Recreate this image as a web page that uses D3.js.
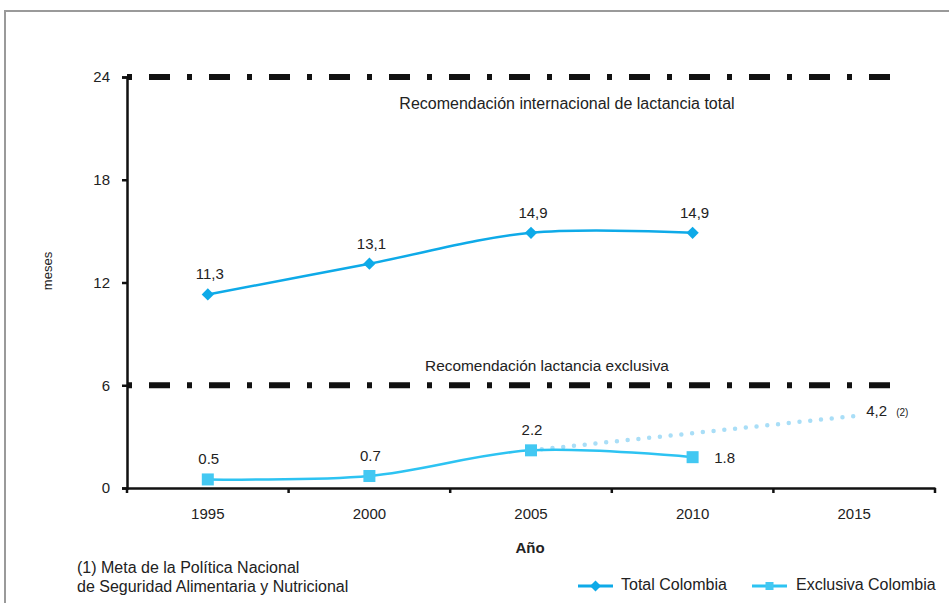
<!DOCTYPE html>
<html><head><meta charset="utf-8">
<script src="https://cdn.jsdelivr.net/npm/d3@7"></script>
<style>body{margin:0;background:#fff}svg{display:block;font-family:"Liberation Sans",Arial,sans-serif}</style>
</head><body><svg id="c" width="949" height="603"></svg>
<script>
const years = ["1995","2000","2005","2010","2015"];
const totalYears = ["1995","2000","2005","2010"];
const totalValues = [11.3, 13.1, 14.9, 14.9];
const totalLabels = ["11,3","13,1","14,9","14,9"];
const exclYears = ["1995","2000","2005","2010"];
const exclValues = [0.5, 0.7, 2.2, 1.8];
const exclLabels = ["0.5","0.7","2.2","1.8"];
const goalYears = ["2005","2015"];
const goalValues = [2.2, 4.2];
const goalLabel = "4,2";
const yTicks = [0, 6, 12, 18, 24];
const refValues = [24, 6];
const refTexts = ["Recomendación internacional de lactancia total", "Recomendación lactancia exclusiva"];

const FONT = "Liberation Sans, Arial, sans-serif";
const svg = d3.select("#c");
// frame
svg.append("rect").attr("x",5).attr("y",11).attr("width",960).attr("height",620)
  .attr("fill","none").attr("stroke","#9a9a9a").attr("stroke-width",2);

const x = d3.scaleBand().domain(years).range([127, 935]);
const y = d3.scaleLinear().domain([0,24]).range([488, 77]);
const cx = d => x(d) + x.bandwidth()/2;

// reference lines
refValues.forEach((v,i)=>{
  svg.append("line").attr("x1",127).attr("x2",907).attr("y1",y(v)).attr("y2",y(v))
    .attr("stroke","#111").attr("stroke-width",6).attr("stroke-dasharray","5,17,21,17");
});
svg.append("text").attr("x",567).attr("y",y(24)+32).attr("text-anchor","middle")
  .attr("font-size",16).attr("fill","#222").text(refTexts[0]);
svg.append("text").attr("x",547).attr("y",y(6)-14).attr("text-anchor","middle")
  .attr("font-size",15.4).attr("fill","#222").text(refTexts[1]);

// axes
const yAxis = svg.append("g").attr("transform","translate(127,0)")
  .call(d3.axisLeft(y).tickValues(yTicks).tickSize(5).tickPadding(12));
yAxis.select(".domain").attr("stroke","#111").attr("stroke-width",2.5);
yAxis.selectAll(".tick line").attr("stroke","#111").attr("stroke-width",2.5);
yAxis.selectAll(".tick text").attr("font-size",15).attr("fill","#222").attr("font-family",FONT);

const xAxis = svg.append("g").attr("transform","translate(0,488)")
  .call(d3.axisBottom(x).tickSize(0).tickPadding(20));
xAxis.select(".domain").attr("stroke","#111").attr("stroke-width",2.5);
xAxis.selectAll(".tick text").attr("font-size",15).attr("fill","#222").attr("font-family",FONT);
// boundary ticks
const bounds = years.map(d=>x(d)).concat([x(years[years.length-1])+x.bandwidth()]);
svg.append("g").selectAll("line").data(bounds).join("line")
  .attr("x1",d=>d).attr("x2",d=>d).attr("y1",488).attr("y2",493)
  .attr("stroke","#111").attr("stroke-width",2.5);

// axis titles
svg.append("text").attr("transform","translate(52,271) rotate(-90)").attr("text-anchor","middle")
  .attr("font-size",13).attr("fill","#222").text("meses");
svg.append("text").attr("x",530).attr("y",553).attr("text-anchor","middle")
  .attr("font-size",15).attr("font-weight","bold").attr("fill","#222").text("Año");

// goal dotted
svg.append("path").datum(goalYears.map((d,i)=>[cx(d),y(goalValues[i])]))
  .attr("d",d3.line()).attr("fill","none").attr("stroke","#a9def7").attr("stroke-width",4.5)
  .attr("stroke-linecap","round").attr("stroke-dasharray","0,10.8");
svg.append("text").attr("x",cx("2015")+12).attr("y",y(4.2)).attr("font-size",15).attr("fill","#222").text(goalLabel);
svg.append("text").attr("x",cx("2015")+42).attr("y",y(4.2)).attr("font-size",10).attr("fill","#222").text("(2)");

const line = d3.line().curve(d3.curveCatmullRom.alpha(0.5));
const totalColor = "#0eaae8", exclColor = "#2dc3f2", exclMarker = "#43c8f2";

// total series
const tPts = totalYears.map((d,i)=>[cx(d), y(totalValues[i])]);
svg.append("path").attr("d",line(tPts)).attr("fill","none").attr("stroke",totalColor).attr("stroke-width",2.5);
svg.append("g").selectAll("path").data(tPts).join("path")
  .attr("d",d3.symbol(d3.symbolSquare, 75))
  .attr("transform",d=>`translate(${d[0]},${d[1]}) rotate(45)`)
  .attr("fill",totalColor);
svg.append("g").selectAll("text").data(tPts).join("text")
  .attr("x",d=>d[0]+2).attr("y",d=>d[1]-15).attr("text-anchor","middle")
  .attr("font-size",15).attr("fill","#222").text((d,i)=>totalLabels[i]);

// exclusive series
const ePts = exclYears.map((d,i)=>[cx(d), y(exclValues[i])]);
svg.append("path").attr("d",line(ePts)).attr("fill","none").attr("stroke",exclColor).attr("stroke-width",2.5);
svg.append("g").selectAll("rect").data(ePts).join("rect")
  .attr("x",d=>d[0]-6).attr("y",d=>d[1]-6).attr("width",12).attr("height",12)
  .attr("fill",exclMarker);
svg.append("g").selectAll("text").data(ePts).join("text")
  .attr("x",(d,i)=> i===3 ? d[0]+32 : d[0]+1)
  .attr("y",(d,i)=> i===3 ? d[1]+6 : d[1]-15)
  .attr("text-anchor","middle")
  .attr("font-size",15).attr("fill","#222").text((d,i)=>exclLabels[i]);

// footnote
svg.append("text").attr("x",77).attr("y",573).attr("font-size",16).attr("fill","#222").text("(1) Meta  de la Política Nacional");
svg.append("text").attr("x",77).attr("y",592).attr("font-size",16).attr("fill","#222").text("de Seguridad Alimentaria y Nutricional");

// legend
const lg = svg.append("g");
lg.append("line").attr("x1",578).attr("x2",613).attr("y1",586).attr("y2",586).attr("stroke",totalColor).attr("stroke-width",3);
lg.append("path").attr("d",d3.symbol(d3.symbolSquare,60)).attr("transform","translate(595.5,586) rotate(45)").attr("fill",totalColor);
lg.append("text").attr("x",621).attr("y",590).attr("font-size",16).attr("fill","#222").text("Total Colombia");
lg.append("line").attr("x1",752).attr("x2",787).attr("y1",586).attr("y2",586).attr("stroke",exclColor).attr("stroke-width",3);
lg.append("rect").attr("x",765.5).attr("y",582).attr("width",8).attr("height",8).attr("fill",exclMarker);
lg.append("text").attr("x",796).attr("y",590).attr("font-size",16).attr("fill","#222").text("Exclusiva Colombia");
</script></body></html>
